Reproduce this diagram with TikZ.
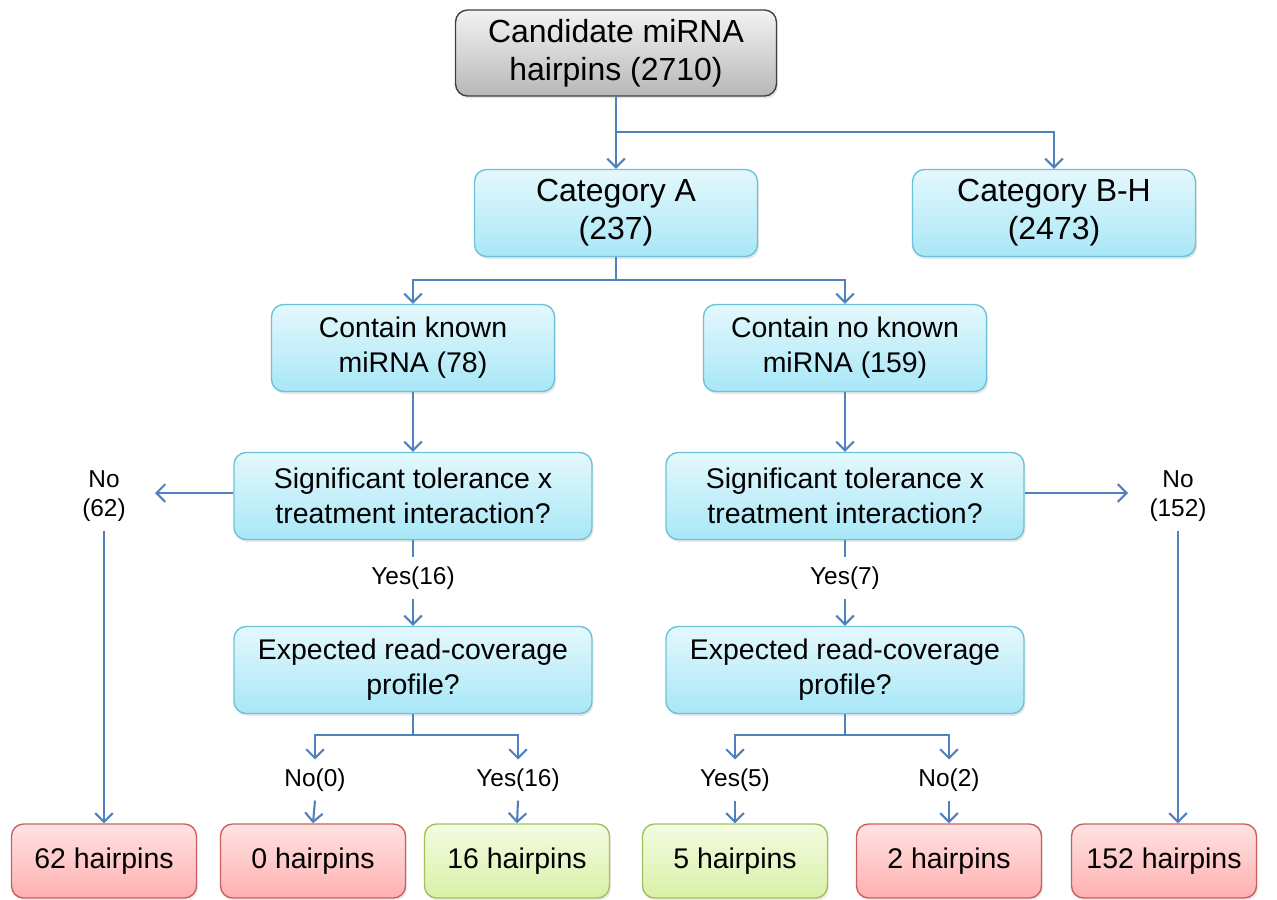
\documentclass[tikz,border=0pt]{standalone}
\usepackage{fontspec}
\setmainfont{Liberation Sans}
\usepackage{tikz}
\usetikzlibrary{arrows.meta,shadows,calc}

\definecolor{linkblue}{HTML}{4F81BD}
\definecolor{cyanedge}{HTML}{6CC3D9}
\definecolor{cyantop}{HTML}{E4F8FC}
\definecolor{cyanbot}{HTML}{A8E7F7}
\definecolor{redtop}{HTML}{FFE3E3}
\definecolor{redbot}{HTML}{FFB0B0}
\definecolor{rededge}{HTML}{C9605E}
\definecolor{greentop}{HTML}{F4FCE3}
\definecolor{greenbot}{HTML}{D9F0A6}
\definecolor{greenedge}{HTML}{9EC35C}

\begin{document}
\begin{tikzpicture}[
  x=0.02cm, y=-0.02cm,
  >={Straight Barb[length=5pt,width=10pt]},
  every node/.style={align=center},
  % Boxes
  startbox/.style={
    rectangle, rounded corners=0.24cm, draw=black!75, line width=0.8pt,
    top color=black!5, bottom color=black!28,
    minimum width=6.42cm, minimum height=1.72cm,
    font=\fontsize{18.2}{21.5}\selectfont,
    drop shadow={opacity=0.2, shadow xshift=0.03cm, shadow yshift=-0.05cm}
  },
  catbox/.style={
    rectangle, rounded corners=0.24cm, draw=cyanedge, line width=0.8pt,
    top color=cyantop, bottom color=cyanbot,
    minimum width=5.66cm, minimum height=1.74cm,
    font=\fontsize{18.2}{21.5}\selectfont,
    drop shadow={opacity=0.2, shadow xshift=0.03cm, shadow yshift=-0.05cm}
  },
  qbox/.style={catbox, font=\fontsize{16.2}{20}\selectfont},
  redbox/.style={
    rectangle, rounded corners=0.24cm, draw=rededge, line width=0.8pt,
    top color=redtop, bottom color=redbot,
    minimum width=3.7cm, minimum height=1.48cm,
    font=\fontsize{16.2}{20}\selectfont,
    drop shadow={opacity=0.15, shadow xshift=0.03cm, shadow yshift=-0.05cm}
  },
  greenbox/.style={redbox, draw=greenedge, top color=greentop, bottom color=greenbot},
  % Edge labels
  lbl/.style={font=\fontsize{13.9}{16.5}\selectfont, inner sep=5pt},
  % Arrows
  link/.style={draw=linkblue, line width=1.2pt},
]
\useasboundingbox (0,0) rectangle (1277,899);

% -------------------------------------------------------
% TOP — all candidates and the two categories
% -------------------------------------------------------
\node[startbox] (cand) at (616,53)  {Candidate miRNA\\hairpins (2710)};
\node[catbox]   (catA) at (616,213) {Category A\\(237)};
\node[catbox]   (catB) at (1054,213){Category B-H\\(2473)};

\coordinate (split0) at (616,132);
\draw[link,->] (cand.south) -- (catA.north);
\draw[link,->] (split0) -| (catB.north);

% -------------------------------------------------------
% Known / no known miRNA
% -------------------------------------------------------
\node[qbox] (known)   at (413,348) {Contain known\\miRNA (78)};
\node[qbox] (noknown) at (845,348) {Contain no known\\miRNA (159)};

\coordinate (split1) at (616,280);
\draw[link] (catA.south) -- (split1);
\draw[link,->] (split1) -| (known.north);
\draw[link,->] (split1) -| (noknown.north);

% -------------------------------------------------------
% Interaction test
% -------------------------------------------------------
\node[qbox, minimum width=7.16cm] (sigL) at (413,496) {Significant tolerance x\\treatment interaction?};
\node[qbox, minimum width=7.16cm] (sigR) at (845,496) {Significant tolerance x\\treatment interaction?};

\draw[link,->] (known.south) -- (sigL.north);
\draw[link,->] (noknown.south) -- (sigR.north);

% No branches
\node[lbl] (no62)  at (104,496)  {No\\(62)};
\node[lbl] (no152) at (1178,496) {No\\(152)};
\coordinate (tipL) at (155,493);
\coordinate (tipR) at (1128,493);
\draw[link,->] (sigL.west |- tipL) -- (tipL);
\draw[link,->] (sigR.east |- tipR) -- (tipR);

% Yes branches
\node[lbl] (yes16) at (413,578) {Yes(16)};
\node[lbl] (yes7)  at (845,578) {Yes(7)};

\node[qbox, minimum width=7.16cm] (expL) at (413,670) {Expected read-coverage\\profile?};
\node[qbox, minimum width=7.16cm] (expR) at (845,670) {Expected read-coverage\\profile?};

\draw[link] (sigL.south) -- (yes16.north);
\draw[link,->] (yes16.south) -- (expL.north);
\draw[link] (sigR.south) -- (yes7.north);
\draw[link,->] (yes7.south) -- (expR.north);

% -------------------------------------------------------
% Read coverage split
% -------------------------------------------------------
\node[lbl] (no0)    at (315,780) {No(0)};
\node[lbl] (yes16b) at (518,780) {Yes(16)};
\node[lbl] (yes5)   at (735,780) {Yes(5)};
\node[lbl] (no2)    at (949,780) {No(2)};

\coordinate (split2) at (413,735);
\coordinate (split3) at (845,735);
\draw[link] (expL.south) -- (split2);
\draw[link,->] (split2) -| (no0.north);
\draw[link,->] (split2) -| (yes16b.north);
\draw[link] (expR.south) -- (split3);
\draw[link,->] (split3) -| (yes5.north);
\draw[link,->] (split3) -| (no2.north);

% -------------------------------------------------------
% BOTTOM — hairpin counts
% -------------------------------------------------------
\node[redbox]   (h62)  at (104,861)  {62 hairpins};
\node[redbox]   (h0)   at (313,861)  {0 hairpins};
\node[greenbox] (h16)  at (517,861)  {16 hairpins};
\node[greenbox] (h5)   at (735,861)  {5 hairpins};
\node[redbox]   (h2)   at (949,861)  {2 hairpins};
\node[redbox]   (h152) at (1164,861) {152 hairpins};

\draw[link,->] (no62.south) -- (h62.north);
\draw[link,->] (no0.south) -- (h0.north);
\draw[link,->] (yes16b.south) -- (h16.north);
\draw[link,->] (yes5.south) -- (h5.north);
\draw[link,->] (no2.south) -- (h2.north);
\draw[link,->] (no152.south) -- (no152.south |- h152.north);

\end{tikzpicture}
\end{document}
